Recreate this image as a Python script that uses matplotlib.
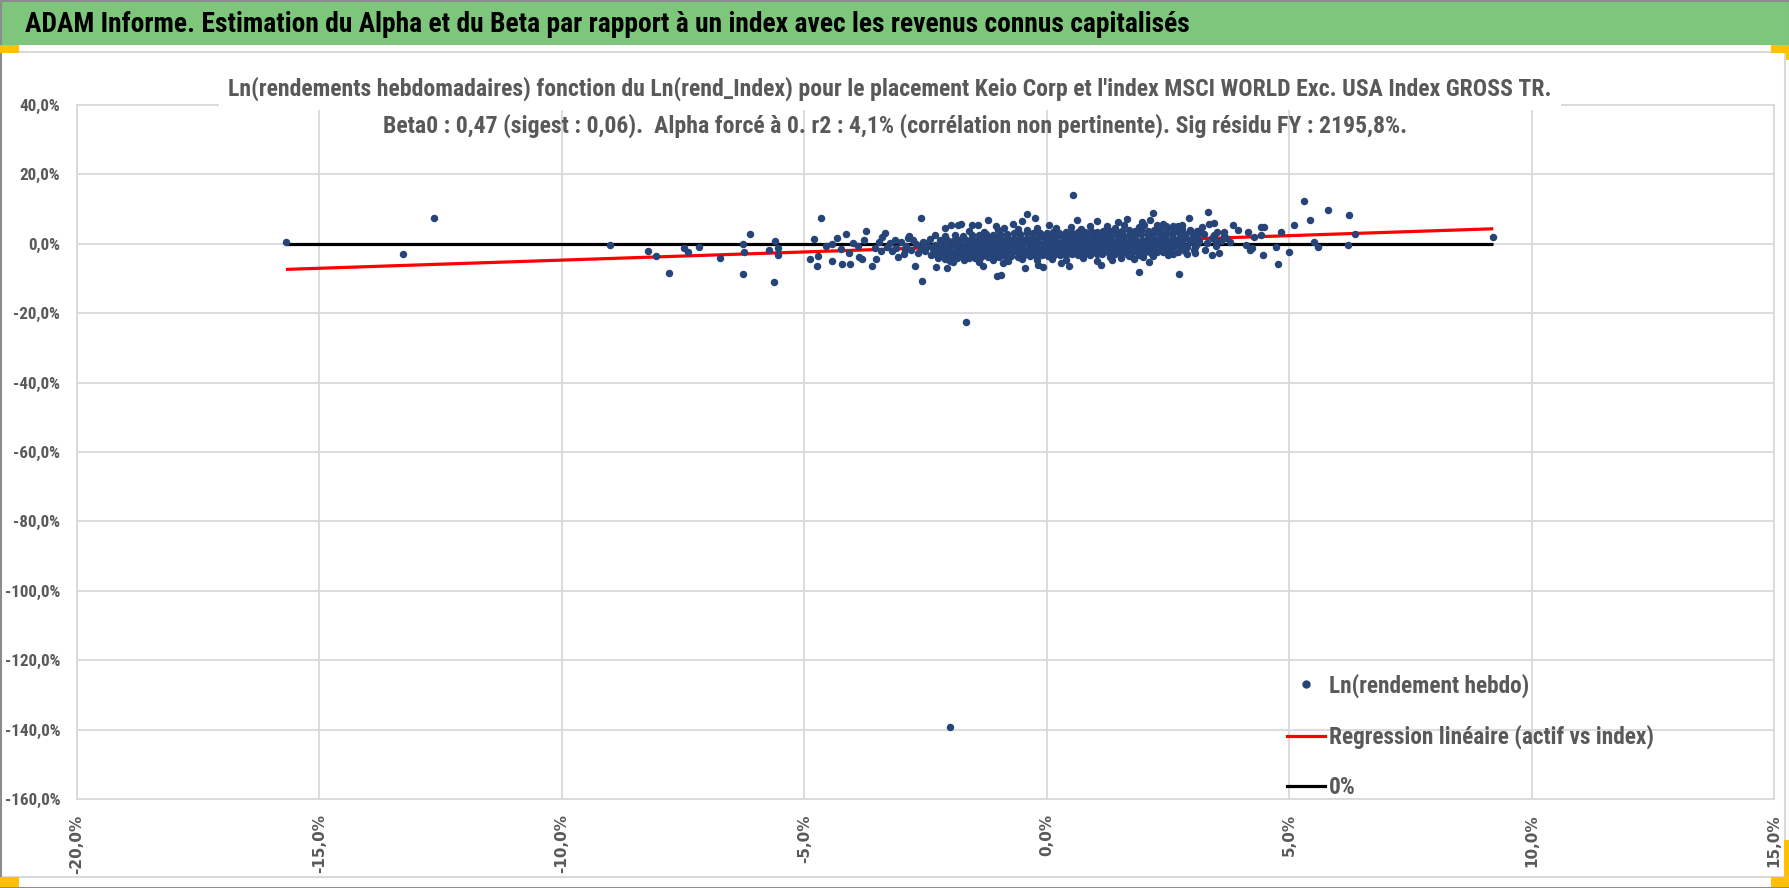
import matplotlib.pyplot as plt
from matplotlib import font_manager
from matplotlib.lines import Line2D
from matplotlib.patches import Rectangle
from matplotlib.ticker import FuncFormatter
import numpy as np

# --- data (weekly log returns, in %) ---
# far points, left tail
left_tail = [(-15.69, 0.66), (-13.27, -2.8), (-12.64, 7.4), (-9.0, -0.3), (-8.23, -2.2),
             (-8.05, -3.5), (-7.78, -8.3), (-7.49, -1.25), (-7.40, -2.4), (-7.18, -1.05),
             (-6.73, -4.0), (-6.27, -0.1), (-6.25, -2.4), (-6.11, 2.7), (-6.27, -8.6),
             (-5.72, -1.8), (-5.61, 0.85), (-5.55, -1.25), (-5.54, -3.3), (-5.63, -11.1)]

# between -5% and -2.3%
left_side = [(-4.88, -4.3), (-4.79, 1.5), (-4.74, -6.4), (-4.65, 7.4), (-4.71, -3.4),
             (-4.56, -0.5), (-4.42, -4.9), (-4.43, -0.1), (-4.32, 1.6), (-4.22, -5.8),
             (-4.14, 2.7), (-4.25, -1.4), (-4.06, -5.7), (-4.0, 0.2), (-4.08, -2.7),
             (-3.90, -0.5), (-3.88, -3.9), (-3.77, 1.15), (-3.72, 3.7), (-3.80, -4.3),
             (-3.60, -6.3), (-3.55, -1.25), (-3.52, -4.5), (-3.39, 2.1), (-3.34, 3.1),
             (-3.41, -2.2), (-3.24, 0.2), (-3.06, -3.9), (-3.13, 1.15), (-2.93, -1.7),
             (-2.86, 1.6), (-2.72, -6.5), (-2.60, 7.4), (-2.58, -10.8), (-2.65, -2.7),
             (-2.51, 0.2), (-2.31, 2.6), (-2.28, -6.8), (-2.38, -3.2), (-2.14, -0.8),
             (-3.3, -0.8), (-3.2, -2.0), (-3.0, 0.5), (-2.9, -0.5), (-2.8, -1.8),
             (-2.75, 1.0), (-2.7, -0.2), (-2.6, -1.2), (-2.55, 0.6), (-2.5, -2.2),
             (-2.45, -0.5), (-2.4, 1.5), (-2.35, -1.6), (-3.45, 0.5), (-3.1, -1.3),
             (-2.95, -3.0), (-2.85, 2.2)]

# dense core of the cloud
core = [
    (-2.25, -4.1), (-2.1, -4.3), (-1.98, -4.0), (-1.85, -4.2), (-1.72, -3.9), (-1.6, -4.1),
    (-1.47, -4.0), (-1.35, -3.8), (-1.22, -3.9), (-1.1, -3.7), (-0.98, -3.8), (-0.85, -3.9),
    (-0.73, -3.5), (-0.6, -3.7), (-0.48, -3.6), (-0.35, -3.4), (-0.22, -3.5), (-0.1, -3.3),
    (0.02, -3.4), (0.15, -3.2), (0.28, -3.1), (0.4, -3.3), (0.53, -3.0), (0.65, -3.2),
    (0.78, -2.9), (0.9, -3.1), (1.03, -2.8), (1.15, -3.0), (1.28, -2.7), (1.4, -2.9),
    (1.53, -2.7), (1.65, -2.8), (1.78, -2.5), (1.9, -2.7), (2.03, -2.4), (2.15, -2.6),
    (2.28, -2.3), (2.4, -2.5), (2.55, -2.2), (2.7, -2.3), (2.85, -2.0),
    (-2.3, -2.9), (-2.17, -2.8), (-2.04, -3.0), (-1.92, -2.7), (-1.79, -2.9), (-1.66, -2.6),
    (-1.54, -2.8), (-1.41, -2.5), (-1.29, -2.6), (-1.16, -2.4), (-1.04, -2.6), (-0.91, -2.3),
    (-0.79, -2.4), (-0.66, -2.2), (-0.54, -2.4), (-0.41, -2.1), (-0.29, -2.2), (-0.16, -2.0),
    (-0.04, -2.2), (0.09, -1.9), (0.21, -2.0), (0.34, -1.8), (0.46, -2.0), (0.59, -1.7),
    (0.71, -1.8), (0.84, -1.6), (0.96, -1.8), (1.09, -1.5), (1.21, -1.6), (1.34, -1.4),
    (1.46, -1.6), (1.59, -1.3), (1.71, -1.4), (1.84, -1.2), (1.96, -1.4), (2.09, -1.1),
    (2.21, -1.2), (2.34, -1.0), (2.46, -1.2), (2.6, -0.9), (2.75, -1.0), (2.9, -0.8),
    (3.05, -0.9),
    (-2.25, -1.6), (-2.12, -1.5), (-1.99, -1.7), (-1.86, -1.4), (-1.73, -1.5), (-1.6, -1.3),
    (-1.48, -1.5), (-1.35, -1.2), (-1.23, -1.3), (-1.1, -1.1), (-0.98, -1.3), (-0.85, -1.0),
    (-0.73, -1.1), (-0.6, -0.9), (-0.48, -1.1), (-0.35, -0.8), (-0.23, -0.9), (-0.1, -0.7),
    (0.02, -0.9), (0.15, -0.6), (0.27, -0.7), (0.4, -0.5), (0.52, -0.7), (0.65, -0.4),
    (0.77, -0.5), (0.9, -0.3), (1.02, -0.5), (1.15, -0.2), (1.27, -0.3), (1.4, -0.1),
    (1.52, -0.3), (1.65, 0.0), (1.77, -0.1), (1.9, 0.1), (2.02, -0.1), (2.15, 0.2),
    (2.27, 0.1), (2.4, 0.3), (2.52, 0.1), (2.66, 0.4), (2.8, 0.3), (2.95, 0.5), (3.1, 0.4),
    (-2.3, -0.3), (-2.18, -0.2), (-2.05, -0.4), (-1.92, -0.1), (-1.8, -0.2), (-1.67, 0.0),
    (-1.54, -0.2), (-1.42, 0.1), (-1.29, 0.0), (-1.17, 0.2), (-1.04, 0.0), (-0.92, 0.3),
    (-0.79, 0.2), (-0.67, 0.4), (-0.54, 0.2), (-0.42, 0.5), (-0.29, 0.4), (-0.17, 0.6),
    (-0.04, 0.4), (0.08, 0.7), (0.21, 0.6), (0.33, 0.8), (0.46, 0.6), (0.58, 0.9),
    (0.71, 0.8), (0.83, 1.0), (0.96, 0.8), (1.08, 1.1), (1.21, 1.0), (1.33, 1.2),
    (1.46, 1.0), (1.58, 1.3), (1.71, 1.2), (1.83, 1.4), (1.96, 1.2), (2.08, 1.5),
    (2.21, 1.4), (2.33, 1.6), (2.46, 1.4), (2.6, 1.7), (2.74, 1.6), (2.88, 1.8), (3.02, 1.6),
    (-2.2, 1.0), (-2.06, 1.1), (-1.93, 0.9), (-1.8, 1.2), (-1.67, 1.1), (-1.55, 1.3),
    (-1.42, 1.1), (-1.3, 1.4), (-1.17, 1.3), (-1.05, 1.5), (-0.92, 1.3), (-0.8, 1.6),
    (-0.67, 1.5), (-0.55, 1.7), (-0.42, 1.5), (-0.3, 1.8), (-0.17, 1.7), (-0.05, 1.9),
    (0.08, 1.7), (0.2, 2.0), (0.33, 1.9), (0.45, 2.1), (0.58, 1.9), (0.7, 2.2),
    (0.83, 2.1), (0.95, 2.3), (1.08, 2.1), (1.2, 2.4), (1.33, 2.3), (1.45, 2.5),
    (1.58, 2.3), (1.7, 2.6), (1.83, 2.5), (1.95, 2.7), (2.08, 2.5), (2.2, 2.8),
    (2.33, 2.7), (2.45, 2.9), (2.58, 2.7), (2.72, 3.0), (2.86, 2.9), (3.0, 3.1),
    (-2.1, 2.3), (-1.9, 2.5), (-1.72, 2.2), (-1.55, 2.6), (-1.4, 2.4), (-1.25, 2.7),
    (-1.1, 2.6), (-0.96, 2.9), (-0.82, 2.7), (-0.68, 3.0), (-0.55, 2.8), (-0.41, 3.1),
    (-0.28, 3.0), (-0.14, 3.2), (0.0, 3.0), (0.13, 3.3), (0.26, 3.2), (0.39, 3.4),
    (0.52, 3.2), (0.65, 3.5), (0.78, 3.4), (0.91, 3.6), (1.04, 3.4), (1.17, 3.7),
    (1.3, 3.6), (1.43, 3.8), (1.56, 3.6), (1.69, 3.9), (1.82, 3.8), (1.95, 4.0),
    (2.08, 3.8), (2.21, 4.1), (2.34, 3.9), (2.48, 4.2), (2.62, 4.0), (2.78, 4.2), (2.95, 4.1),
]

# scattered points above / below the core
fringe = [(-1.6, 3.6), (-1.0, 3.9), (-0.6, 4.2), (-0.2, 4.5), (0.2, 4.6), (0.5, 4.9),
          (0.9, 5.0), (1.25, 5.2), (1.6, 5.4), (2.0, 5.3), (2.4, 5.6), (2.7, 5.2),
          (0.05, 5.3), (1.4, 4.6), (-0.4, 3.9), (0.7, 4.4), (1.9, 4.8), (2.6, 4.7),
          (3.1, 3.8), (-1.3, 3.4),
          (-1.98, 5.5), (-1.83, 5.5), (-1.76, 5.7), (-1.55, 5.5), (-1.41, 5.5), (-1.22, 7.0),
          (-1.05, 5.0), (-0.88, 4.5), (-0.69, 5.7), (-0.52, 6.6), (-0.40, 8.6), (-0.24, 7.4),
          (0.62, 6.9), (1.03, 6.6), (1.48, 6.4), (1.66, 7.1), (1.96, 6.2), (2.20, 8.8),
          (2.13, 6.9), (2.27, 5.5), (2.45, 5.0), (2.60, 5.0), (2.78, 5.3), (2.93, 7.4),
          (3.20, 4.8), (3.32, 9.1), (3.34, 5.7), (3.44, 6.0), (-2.09, 4.5), (0.55, 14.1),
          (-2.0, -5.0), (-1.7, -4.8), (-1.4, -5.2), (-1.1, -4.6), (-0.8, -4.9), (-0.5, -4.5),
          (-0.2, -4.7), (0.1, -4.4), (0.4, -4.6), (0.75, -4.2), (1.3, -3.9), (1.7, -3.6),
          (2.2, -3.4), (2.5, -3.3), (0.3, -5.4), (-0.9, -5.6), (1.8, -4.4), (2.6, -2.8),
          (2.9, -3.0),
          (-2.05, -7.0), (-1.93, -5.3), (-1.31, -6.5), (-1.02, -9.4), (-0.95, -8.9),
          (-0.45, -7.0), (-0.17, -6.0), (-0.07, -6.8), (0.45, -6.5), (1.12, -6.1),
          (1.03, -4.9), (1.34, -4.6), (1.53, -4.1), (1.91, -8.2), (1.90, -3.2), (2.10, -5.3),
          (1.99, -3.9), (2.72, -8.7), (3.03, -1.7), (3.05, -2.7), (3.27, -1.7), (3.40, -3.2),
          (3.55, -2.7),
          (3.1, 2.0), (3.15, 0.8), (3.25, 2.8), (3.3, 0.2), (3.4, 1.6), (3.45, 2.5),
          (3.6, 0.9), (3.18, 3.5), (3.5, -0.5), (3.1, -0.2), (3.65, 2.2)]

# right tail beyond 3.5%
right_side = [(3.51, 3.5), (3.48, 1.15), (3.65, 3.5), (3.70, 1.8), (3.79, 0.5), (3.84, 5.5),
              (3.95, 4.0), (4.11, -0.3), (4.15, 3.3), (4.20, -1.9), (4.23, -1.25), (4.28, 1.9),
              (4.41, 4.8), (4.48, 4.8), (4.42, 2.6), (4.46, -3.2), (4.73, -0.8), (4.78, -5.8),
              (4.84, 3.5), (4.99, -2.4), (5.11, 5.3), (5.30, 12.4), (5.44, 6.9), (5.52, 0.66),
              (5.59, -1.05), (5.80, 9.8), (6.23, 8.2), (6.35, 2.7), (6.21, -0.3), (9.21, 1.9)]

# isolated outliers
outliers = [(-1.66, -22.5), (-2.0, -139.2)]

beta0 = 0.47

header = "ADAM Informe. Estimation du Alpha et du Beta par rapport à un index avec les revenus connus capitalisés"
title_1 = "Ln(rendements hebdomadaires) fonction du Ln(rend_Index) pour le placement Keio Corp et l'index MSCI WORLD Exc. USA Index GROSS TR."
title_2 = "Beta0 : 0,47 (sigest : 0,06).  Alpha forcé à 0. r2 : 4,1% (corrélation non pertinente). Sig résidu FY : 2195,8%."
legend_labels = ["Ln(rendement hebdo)", "Regression linéaire (actif vs index)", "0%"]

pts = np.array(left_tail + left_side + core + fringe + right_side + outliers)
x = pts[:, 0]
y = pts[:, 1]

# pick a narrow font if one is around (reference is Calibri), else Liberation Sans
names = {f.name for f in font_manager.fontManager.ttflist}
narrow_name = 'Liberation Sans'
for cand in ['Liberation Sans Narrow', 'DejaVu Sans Condensed', 'Roboto Condensed',
             'Open Sans Condensed', 'Noto Sans Condensed', 'Arial Narrow']:
    if cand in names:
        narrow_name = cand
        break
narrow = [narrow_name, 'DejaVu Sans']

grey = '#595959'
navy = '#264478'

W, H = 1790, 888
fig = plt.figure(figsize=(W / 100, H / 100), dpi=100)
renderer = fig.canvas.get_renderer()


def fit_width(txt, target_px):
    w = txt.get_window_extent(renderer).width
    txt.set_fontsize(txt.get_fontsize() * target_px / w)
    return txt.get_fontsize()


# excel-like frame
fig.patches.append(Rectangle((0, H - 45), W, 45, transform=None, facecolor='#7dc67b',
                             edgecolor='none', zorder=0))
fig.patches.append(Rectangle((1, 11), 1784, H - 63, transform=None, facecolor='none',
                             edgecolor='#d9d9d9', lw=1.5, zorder=1))
fig.patches.append(Rectangle((0.5, 0.5), W - 1, H - 1, transform=None, facecolor='none',
                             edgecolor='#8c8c8c', lw=1.5, zorder=2))
for rx, ry, rw, rh in [(0, H - 53, 19, 8), (0, 1, 19, 10), (1771, H - 53, 19, 8),
                       (1786, H - 60, 4, 8), (1771, 1, 19, 10), (1784, 1, 6, 47)]:
    fig.patches.append(Rectangle((rx, ry), rw, rh, transform=None, facecolor='#ffc000',
                                 edgecolor='none', zorder=3))

head = fig.text(25 / W, 1 - 24 / H, header, ha='left', va='center', fontsize=20,
                fontweight='bold', color='black', family=narrow)
fit_width(head, 1162)

ax = fig.add_axes([77 / W, 1 - 799 / H, (1774 - 77) / W, (799 - 105) / H])

xs = np.array([x.min(), x.max()])
ax.plot(xs, beta0 * xs, color='#ff0000', lw=2.3, zorder=2, solid_capstyle='butt')
ax.plot(xs, [0, 0], color='black', lw=2.3, zorder=2, solid_capstyle='butt')
ax.scatter(x, y, s=29, color=navy, linewidths=0, zorder=3)

ax.set_xlim(-20, 15)
ax.set_ylim(-160, 40)
ax.set_xticks(np.arange(-20, 16, 5))
ax.set_yticks(np.arange(-160, 41, 20))
pct = FuncFormatter(lambda v, p: ('%.1f%%' % v).replace('.', ','))
ax.xaxis.set_major_formatter(pct)
ax.yaxis.set_major_formatter(pct)
ax.grid(True, color='#d9d9d9', lw=1.3, zorder=0)
ax.set_axisbelow(True)
for s in ax.spines.values():
    s.set_color('#d9d9d9')
    s.set_linewidth(1.3)
ax.tick_params(length=0)

# y tick size so that "-160,0%" is about 56 px wide
probe = fig.text(0, 0, '-160,0%', fontsize=13, fontweight='bold', family=narrow)
ytick_size = fit_width(probe, 56)
probe.remove()
ax.tick_params(axis='y', pad=12, labelsize=ytick_size, labelcolor=grey)
ax.tick_params(axis='x', pad=11, labelsize=11, labelcolor=grey, labelrotation=90)
for lab in ax.get_yticklabels():
    lab.set_family(narrow)
    lab.set_fontweight('bold')
for lab in ax.get_xticklabels():
    lab.set_family('DejaVu Sans')
    lab.set_fontweight('bold')

t1 = fig.text(890 / W, 1 - 89 / H, title_1, ha='center', va='center', fontsize=18,
              fontweight='bold', color=grey, family=narrow,
              bbox=dict(facecolor='white', edgecolor='none', pad=7))
tsize = fit_width(t1, 1322)
fig.text(895 / W, 1 - 126 / H, title_2, ha='center', va='center', fontsize=tsize,
         fontweight='bold', color=grey, family=narrow)

# legend text size so that the regression label is about 326 px wide
probe = fig.text(0, 0, legend_labels[1], fontsize=15, fontweight='bold', family=narrow)
leg_size = fit_width(probe, 326)
probe.remove()
leg_px = leg_size * 100 / 72
handles = [Line2D([], [], ls='none', marker='o', markersize=5, color=navy),
           Line2D([], [], color='#ff0000', lw=2.3),
           Line2D([], [], color='black', lw=2.3)]
leg = fig.legend(handles, legend_labels, loc='upper left',
                 bbox_to_anchor=(1287 / W, 1 - (688 - 0.62 * leg_px) / H), frameon=False,
                 prop=dict(family=narrow, size=leg_size, weight='bold'),
                 handlelength=38 / leg_px, handletextpad=4 / leg_px,
                 labelspacing=(55 - leg_px * 1.2) / leg_px,
                 borderpad=0, borderaxespad=0)
for t in leg.get_texts():
    t.set_color(grey)

fig.savefig('out.png', dpi=100)
